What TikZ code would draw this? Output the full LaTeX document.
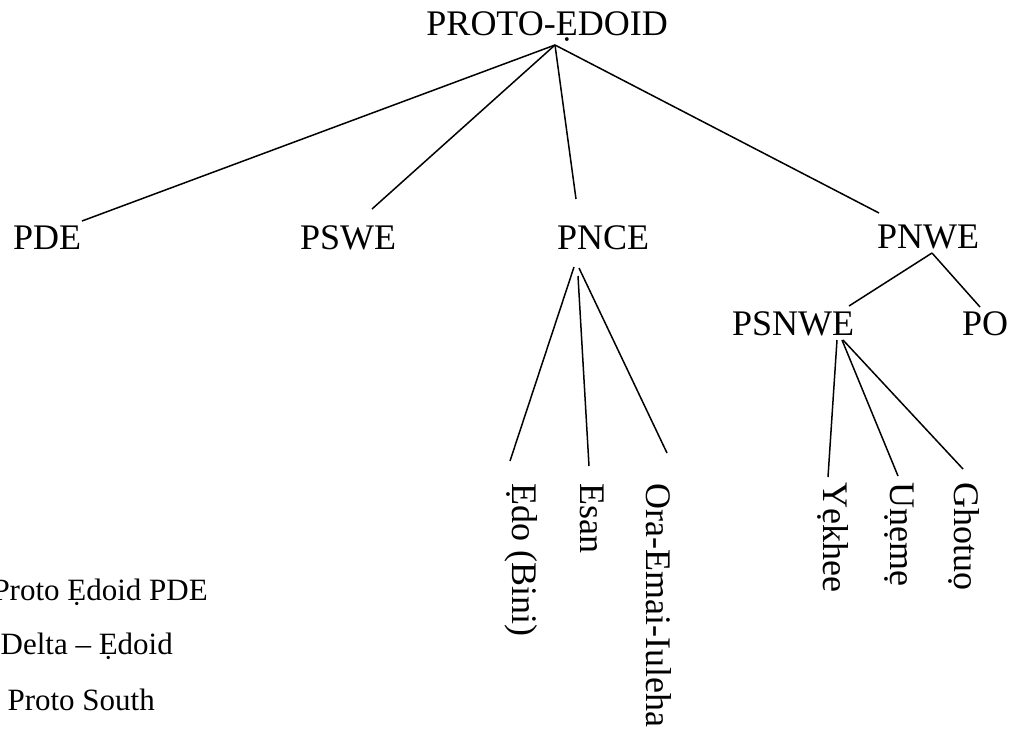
\documentclass[tikz,border=0pt]{standalone}
\usepackage{fontspec}
\setmainfont{Liberation Serif}
\begin{document}
\begin{tikzpicture}[x=1pt,y=-1pt,
  lab/.style={inner sep=0pt, font=\fontsize{36}{40}\selectfont},
  lang/.style={lab, rotate=-90, anchor=base west},
  note/.style={inner sep=0pt, font=\fontsize{31}{36}\selectfont, anchor=base east},
  branch/.style={line width=1.5pt}]
\useasboundingbox (0,0) rectangle (1012,737);
\clip (0,0) rectangle (1012,737);
% labels
\node[lab,anchor=base east] (root) at (668,35) {PROTO-ẸDOID};
\node[lab,anchor=base west] (pde) at (13,249) {PDE};
\node[lab,anchor=base west] (pswe) at (300,249) {PSWE};
\node[lab,anchor=base west] (pnce) at (557,249) {PNCE};
\node[lab,anchor=base west] (pnwe) at (877,248) {PNWE};
\node[lab,anchor=base west] (psnwe) at (732,335) {PSNWE};
\node[lab,anchor=base west] (po) at (962,335) {PO};
\node[lang] (edo) at (512,483) {Ẹdo (Bini)};
\node[lang] (esan) at (580,483) {Esan};
\node[lang] (ora) at (646,483) {Ora-Emai-Iuleha};
\node[lang] (yekhee) at (823,482) {Yẹkhee};
\node[lang] (uneme) at (890,482) {Uṇẹmẹ};
\node[lang] (ghotuo) at (954,482) {Ghotuọ};
\node[note] (n1) at (208,600) {Proto Ẹdoid PDE};
\node[note] (n2) at (173,654) {Delta – Ẹdoid};
\node[note] (n3) at (155,710) {Proto South};
% connector points
\coordinate (rootB) at (555,45);
\coordinate (pdeT) at (82,221);
\coordinate (psweT) at (372,209);
\coordinate (pnceT) at (576,199);
\coordinate (pnweT) at (879,213);
\coordinate (pnceB1) at (574,267);
\coordinate (pnceB2) at (578,276);
\coordinate (pnceB3) at (579,268);
\coordinate (edoT) at (510,461);
\coordinate (esanT) at (589,466);
\coordinate (oraT) at (667,453);
\coordinate (pnweB) at (932,253);
\coordinate (psnweT) at (849,306);
\coordinate (poT) at (980,307);
\coordinate (psnweB1) at (837,340);
\coordinate (psnweB2) at (842,340);
\coordinate (psnweB3) at (843,340);
\coordinate (yekheeT) at (828,477);
\coordinate (unemeT) at (898,476);
\coordinate (ghotuoT) at (963,469);
% connectors
\draw[branch] (rootB) -- (pdeT);
\draw[branch] (rootB) -- (psweT);
\draw[branch] (rootB) -- (pnceT);
\draw[branch] (rootB) -- (pnweT);
\draw[branch] (pnceB1) -- (edoT);
\draw[branch] (pnceB2) -- (esanT);
\draw[branch] (pnceB3) -- (oraT);
\draw[branch] (pnweB) -- (psnweT);
\draw[branch] (pnweB) -- (poT);
\draw[branch] (psnweB1) -- (yekheeT);
\draw[branch] (psnweB2) -- (unemeT);
\draw[branch] (psnweB3) -- (ghotuoT);
\end{tikzpicture}
\end{document}
